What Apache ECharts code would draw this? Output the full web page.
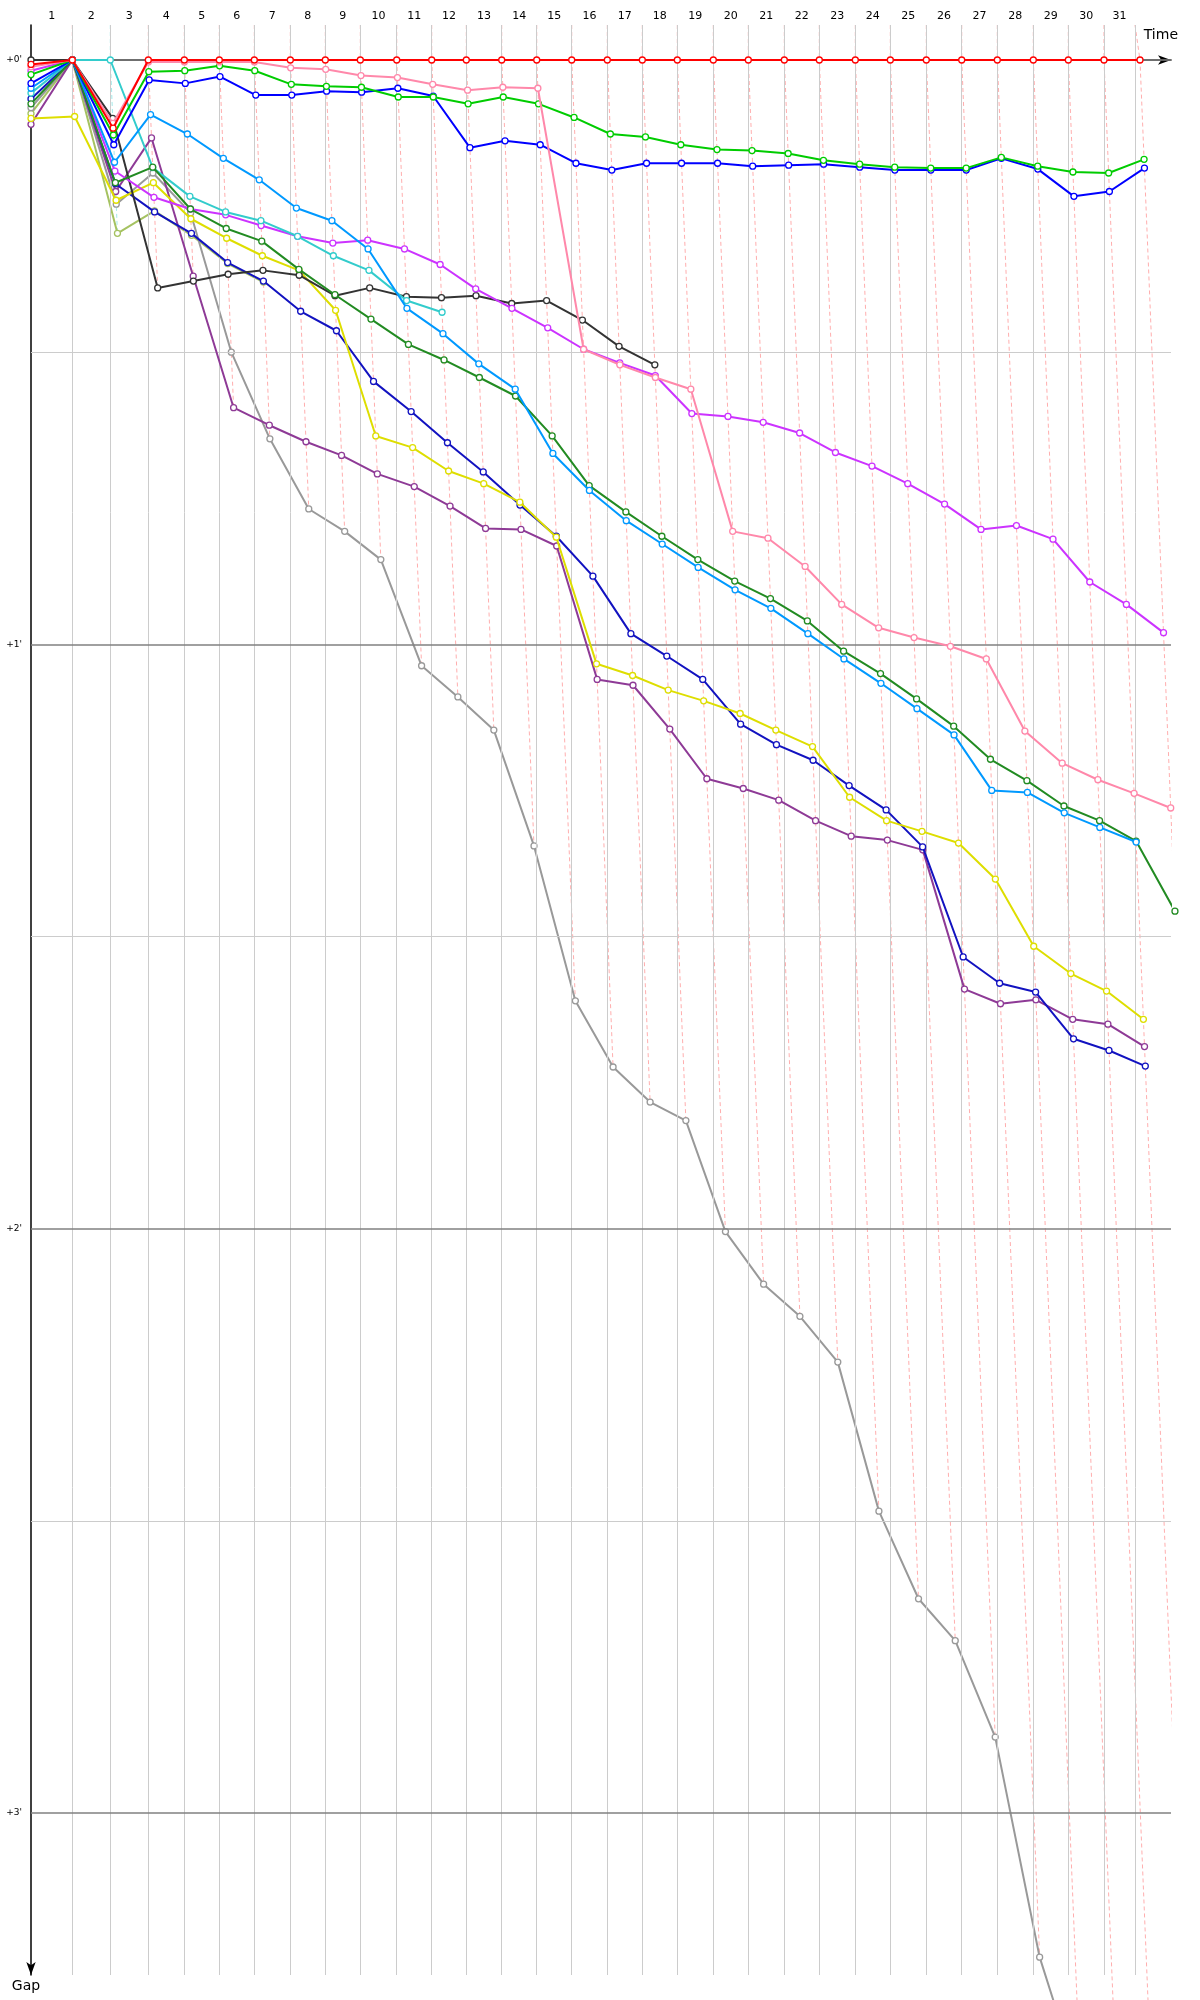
<!DOCTYPE html>
<html><head><meta charset="utf-8">
<script src="https://cdn.jsdelivr.net/npm/echarts@6/dist/echarts.min.js"></script>
<style>html,body{margin:0;padding:0;background:#fff}#chart{width:1200px;height:2000px}</style>
</head><body><div id="chart"></div>
<script>
// ---- data ----
// time (s) at which each lap line is drawn (end of laps 1..31)
const lapLines = [103.3,198.3,293.3,383.3,470.8,558.3,648.3,735.8,823.3,914.3,1001.8,1088.3,1176.8,1264.3,1351.8,1440.8,1528.3,1615.8,1705.8,1793.3,1883.3,1970.8,2060.8,2148.3,2238.3,2326.8,2415.8,2505.8,2593.3,2682.5,2760];
// leader's crossing time for lap 0..31
const leaderTimes = [0,103.3,198.3,293.3,383.3,470.8,558.3,648.3,735.8,823.3,914.3,1001.8,1088.3,1176.8,1264.3,1351.8,1440.8,1528.3,1615.8,1705.8,1793.3,1883.3,1970.8,2060.8,2148.3,2238.3,2326.8,2415.8,2505.8,2593.3,2682.5,2772.5];
const lapLabels = ['1','2','3','4','5','6','7','8','9','10','11','12','13','14','15','16','17','18','19','20','21','22','23','24','25','26','27','28','29','30','31'];
const gapTickValues = [0,60,120,180];
const gapTickLabels = ["+0'","+1'","+2'","+3'"];
const halfMinuteLines = [30,90,150];

// gaps to leader in seconds, index = lap (0 = start)
const gapRed = [0.45,0,7.0,0,0,0,0,0,0,0,0,0,0,0,0,0,0,0,0,0,0,0,0,0,0,0,0,0,0,0,0,0];
const gapPink = [0.7,0,6.5,0.2,0.2,0.2,0.2,0.8,0.96,1.6,1.8,2.5,3.1,2.8,2.9,29.7,31.3,32.6,33.8,48.4,49.1,52.0,55.9,58.3,59.3,60.2,61.5,68.9,72.2,73.9,75.3,76.8];
const gapGreen = [1.5,0,7.7,1.2,1.1,0.6,1.1,2.5,2.7,2.8,3.8,3.8,4.5,3.8,4.5,5.9,7.6,7.9,8.7,9.2,9.3,9.6,10.3,10.7,11.0,11.1,11.1,10.0,10.9,11.5,11.6,10.2];
const gapBlue = [2.4,0,8.7,2.05,2.4,1.7,3.6,3.6,3.2,3.3,2.9,3.7,9.0,8.3,8.7,10.6,11.3,10.6,10.6,10.6,10.9,10.8,10.7,11.0,11.3,11.3,11.3,10.1,11.2,14.0,13.5,11.1];
const gapLightBlue = [2.9,0,10.5,5.6,7.6,10.1,12.3,15.2,16.5,19.4,25.5,28.1,31.2,33.8,40.4,44.2,47.3,49.7,52.1,54.4,56.3,58.9,61.5,64.0,66.6,69.3,75.0,75.2,77.3,78.8,80.3];
const gapDarkGreen = [4.5,0,12.6,11.0,15.3,17.3,18.6,21.5,24.1,26.6,29.2,30.8,32.6,34.5,38.6,43.7,46.4,48.9,51.3,53.5,55.3,57.6,60.7,63.0,65.6,68.4,71.8,74.0,76.6,78.1,80.2,87.4];
const gapCyan = [3.4,0,0,11.05,14.0,15.6,16.5,18.1,20.1,21.6,24.7,25.9];
const gapMagenta = [1.1,0,11.4,14.1,15.3,15.9,17.0,18.1,18.8,18.5,19.4,21.0,23.5,25.5,27.5,29.7,31.1,32.4,36.3,36.6,37.2,38.3,40.3,41.7,43.5,45.6,48.2,47.8,49.2,53.6,55.9,58.8];
const gapBlack = [0,0,6.0,23.4,22.7,22.0,21.6,22.1,24.2,23.4,24.3,24.4,24.2,25.0,24.7,26.7,29.4,31.3];
const gapYellow = [6.0,5.8,14.4,12.6,16.3,18.3,20.1,21.6,25.7,38.6,39.8,42.2,43.5,45.4,49.0,62.0,63.2,64.7,65.8,67.1,68.8,70.5,75.7,78.1,79.2,80.4,84.1,91.0,93.8,95.6,98.5];
const gapDarkBlue = [4.0,0,12.7,15.6,17.8,20.8,22.7,25.8,27.8,33.0,36.1,39.3,42.3,45.7,48.9,53.0,58.9,61.2,63.6,68.2,70.3,71.9,74.5,77.0,80.8,92.1,94.8,95.7,100.5,101.7,103.3];
const gapPurple = [6.6,0,13.5,8.0,22.2,35.7,37.5,39.2,40.6,42.5,43.8,45.8,48.1,48.2,49.9,63.6,64.2,68.7,73.8,74.8,76.0,78.1,79.7,80.1,81.1,95.4,96.9,96.5,98.5,99.0,101.3];
const gapGray = [4.9,0,14.8,11.6,15.7,30.0,38.9,46.1,48.4,51.3,62.2,65.4,68.8,80.7,96.6,103.4,107.0,108.9,120.3,125.7,129.0,133.7,149.0,158.0,162.3,172.2,194.8,208,221,234,247,260];
const gapYellowGreen = [5.5,0,17.8,15.5,18.0,20.9,22.8];

// ---- styling ----
const cars = [
  {gaps: gapYellowGreen, color: '#a5c261'},
  {gaps: gapGray, color: '#999999'},
  {gaps: gapPurple, color: '#8e3a96'},
  {gaps: gapDarkBlue, color: '#1212c0'},
  {gaps: gapYellow, color: '#dede00'},
  {gaps: gapBlack, color: '#333333'},
  {gaps: gapMagenta, color: '#cc33ff'},
  {gaps: gapCyan, color: '#33cccc'},
  {gaps: gapDarkGreen, color: '#228b22'},
  {gaps: gapLightBlue, color: '#0099ff'},
  {gaps: gapBlue, color: '#0000ff'},
  {gaps: gapGreen, color: '#00cc00'},
  {gaps: gapPink, color: '#ff88aa'},
  {gaps: gapRed, color: '#ff0000'}
];
const leaderOrder = [13,12,11,10,9,8,7,6,5,4,3,2,1,0]; // red first
const lightColor = {'#ff0000':'rgba(255,0,0,0.32)','#33cccc':'rgba(51,204,204,0.45)'};

const FONT = 'DejaVu Sans';
const yMin = -3.594, yMax = 196.63, xMin = 0, xMax = 2850;

const lapCenters = lapLines.map((v,i)=> ((i===0?0:lapLines[i-1]) + v)/2);

const series = [];
// grid lines
series.push({
  type:'line', data:[], silent:true, z:1, animation:false,
  markLine:{
    silent:true, symbol:'none', animation:false, label:{show:false},
    data: lapLines.map(v=>({xAxis:v, lineStyle:{color:'#cccccc', width:1, type:'solid'}}))
      .concat(halfMinuteLines.map(v=>({yAxis:v, lineStyle:{color:'#cccccc', width:1, type:'solid'}})))
      .concat(gapTickValues.map(v=>({yAxis:v, lineStyle:{color:'#808080', width:1.5, type:'solid'}})))
  }
});
// lap (leader) dashed lines
for (let n=1; n<=31; n++){
  let gmax = 0, leadColor = '#ff0000';
  cars.forEach(c=>{ if (c.gaps.length>n && c.gaps[n]>gmax) gmax=c.gaps[n]; });
  for (const k of leaderOrder){ const c=cars[k]; if (c.gaps.length>n && c.gaps[n]===0){ leadColor=c.color; break; } }
  series.push({
    type:'line', silent:true, z:2, animation:false, clip:false, symbol:'none',
    lineStyle:{color: lightColor[leadColor]||'rgba(255,0,0,0.32)', width:1, type:[4,3]},
    data:[[lapLines[n-1], yMin],[leaderTimes[n],0],[leaderTimes[n]+gmax, gmax]]
  });
}
// cars
cars.forEach((c,i)=>{
  series.push({
    type:'line', z:3+i, animation:false, clip:false,
    symbol:'circle', symbolSize:6, showSymbol:true,
    lineStyle:{color:c.color, width:2},
    itemStyle:{color:'#ffffff', borderColor:c.color, borderWidth:1.3},
    data: c.gaps.map((g,lap)=>[lap===0?0:leaderTimes[lap]+g, g])
  });
});

const chart = echarts.init(document.getElementById('chart'), null, {renderer:'canvas'});
chart.setOption({
  animation:false,
  backgroundColor:'#ffffff',
  title:{text:'Time', right:22, top:28, padding:0,
    textStyle:{fontSize:14, fontWeight:'normal', fontFamily:FONT, color:'#000'}},
  grid:{left:31, top:25, right:29, bottom:25, containLabel:false},
  xAxis:{
    type:'value', position:'top', min:xMin, max:xMax,
    axisLine:{show:true, lineStyle:{color:'#000', width:1.5}, symbol:['none','arrow'], symbolSize:[7,13]},
    axisTick:{show:false}, splitLine:{show:false},
    axisLabel:{customValues: lapCenters, margin:3, fontSize:11, fontFamily:FONT, color:'#000',
      formatter:(v)=>{ const i = lapCenters.findIndex(c=>Math.abs(c-v)<0.01); return i>=0?lapLabels[i]:''; }}
  },
  yAxis:{
    type:'value', inverse:true, min:yMin, max:yMax,
    name:'Gap', nameLocation:'end', nameGap:4, nameMoveOverlap:false,
    nameTextStyle:{fontSize:14, fontFamily:FONT, color:'#000', padding:[0,10,0,0]},
    axisLine:{show:true, lineStyle:{color:'#000', width:1.5}, symbol:['arrow','none'], symbolSize:[7,13]},
    axisTick:{show:false}, splitLine:{show:false},
    axisLabel:{customValues: gapTickValues, margin:9, fontSize:9, fontFamily:FONT, color:'#000',
      formatter:(v)=>{ const i = gapTickValues.indexOf(v); return i>=0?gapTickLabels[i]:''; }}
  },
  series
});
</script></body></html>
